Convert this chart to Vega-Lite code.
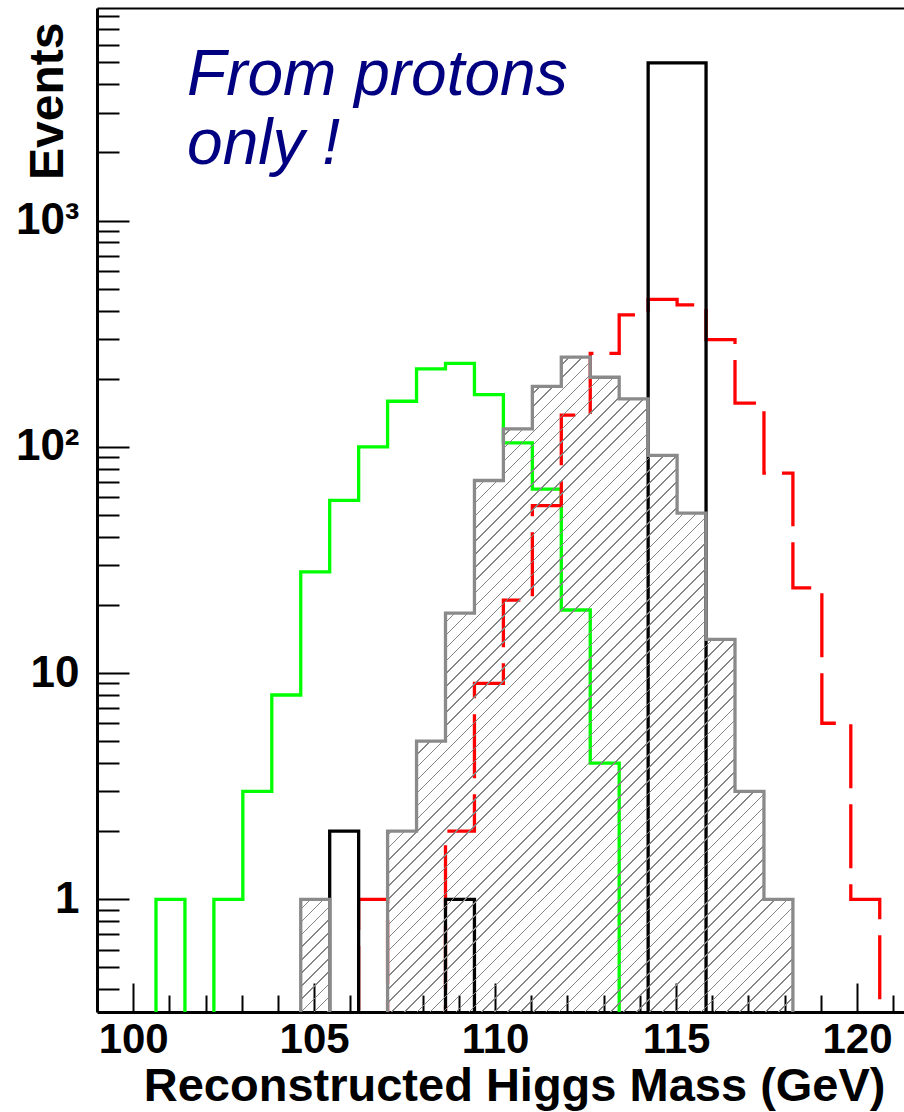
{
  "$schema": "https://vega.github.io/schema/vega-lite/v6.json",
  "width": 807,
  "height": 1004,
  "autosize": {"type": "none"},
  "padding": {"left": 97, "top": 8, "right": 0, "bottom": 100},
  "background": "white",
  "config": {"view": {"stroke": null}, "font": "Liberation Sans", "axis": {"grid": false}},
  "datasets": {
    "bins": [
      {"mass_lo": 99.03, "green": 0.1, "red": 0.1, "black": 0.1, "hatched": 0.1},
      {"mass_lo": 99.83, "green": 0.1, "red": 0.1, "black": 0.1, "hatched": 0.1},
      {"mass_lo": 100.63, "green": 1, "red": 0.1, "black": 0.1, "hatched": 0.1},
      {"mass_lo": 101.43, "green": 0.1, "red": 0.1, "black": 0.1, "hatched": 0.1},
      {"mass_lo": 102.23, "green": 1, "red": 0.1, "black": 0.1, "hatched": 0.1},
      {"mass_lo": 103.03, "green": 3, "red": 0.1, "black": 0.1, "hatched": 0.1},
      {"mass_lo": 103.83, "green": 8, "red": 0.1, "black": 0.1, "hatched": 0.1},
      {"mass_lo": 104.63, "green": 28, "red": 0.1, "black": 0.1, "hatched": 1},
      {"mass_lo": 105.43, "green": 58, "red": 0.1, "black": 2, "hatched": 0.1},
      {"mass_lo": 106.23, "green": 100, "red": 1, "black": 0.1, "hatched": 0.1},
      {"mass_lo": 107.03, "green": 159, "red": 0.1, "black": 0.1, "hatched": 2},
      {"mass_lo": 107.83, "green": 221, "red": 0.1, "black": 0.1, "hatched": 5},
      {"mass_lo": 108.63, "green": 234, "red": 2, "black": 1, "hatched": 18.4},
      {"mass_lo": 109.43, "green": 170, "red": 9, "black": 0.1, "hatched": 71},
      {"mass_lo": 110.23, "green": 104, "red": 21, "black": 0.1, "hatched": 120},
      {"mass_lo": 111.03, "green": 65, "red": 55, "black": 0.1, "hatched": 185},
      {"mass_lo": 111.83, "green": 19, "red": 138, "black": 0.1, "hatched": 249},
      {"mass_lo": 112.63, "green": 4, "red": 259, "black": 0.1, "hatched": 203},
      {"mass_lo": 113.43, "green": 0.1, "red": 383, "black": 0.1, "hatched": 163},
      {"mass_lo": 114.23, "green": 0.1, "red": 448, "black": 4980, "hatched": 91.6},
      {"mass_lo": 115.03, "green": 0.1, "red": 424, "black": 4980, "hatched": 50.9},
      {"mass_lo": 115.83, "green": 0.1, "red": 298, "black": 0.1, "hatched": 14.1},
      {"mass_lo": 116.63, "green": 0.1, "red": 156, "black": 0.1, "hatched": 3},
      {"mass_lo": 117.43, "green": 0.1, "red": 76.5, "black": 0.1, "hatched": 1},
      {"mass_lo": 118.23, "green": 0.1, "red": 23.8, "black": 0.1, "hatched": 0.1},
      {"mass_lo": 119.03, "green": 0.1, "red": 6, "black": 0.1, "hatched": 0.1},
      {"mass_lo": 119.83, "green": 0.1, "red": 1, "black": 0.1, "hatched": 0.1},
      {"mass_lo": 120.63, "green": 0.1, "red": 0.1, "black": 0.1, "hatched": 0.1}
    ]
  },
  "data": {"name": "bins"},
  "resolve": {"axis": {"x": "independent", "y": "independent"}},
  "layer": [
    {
      "mark": {"type": "line", "interpolate": "step-after", "color": "#00ff00", "strokeWidth": 3.3, "clip": true, "strokeJoin": "miter", "strokeCap": "butt"},
      "encoding": {
        "x": {"field": "mass_lo", "type": "quantitative",
          "scale": {"domain": [99, 121.3], "nice": false, "zero": false},
          "axis": {"orient": "bottom", "values": [100, 105, 110, 115, 120], "format": "d", "ticks": false, "tickSize": 0,
            "domain": true, "domainColor": "black", "domainWidth": 3,
            "labelFont": "Liberation Sans", "labelFontWeight": "bold", "labelFontSize": 42, "labelColor": "black",
            "labelPadding": 7, "labelBaseline": "top", "labelFlush": false, "labelOverlap": false,
            "title": "Reconstructed Higgs Mass (GeV)", "titleFont": "Liberation Sans", "titleFontWeight": "bold",
            "titleFontSize": 47, "titleColor": "black", "titleAlign": "right", "titleBaseline": "alphabetic",
            "titleX": 788, "titleY": 88}},
        "y": {"field": "green", "type": "quantitative",
          "scale": {"type": "log", "domain": [0.3177, 8700], "nice": false},
          "axis": {"orient": "left", "values": [1, 10, 100, 1000],
            "labelExpr": "datum.value == 1000 ? '10³' : datum.value == 100 ? '10²' : datum.value == 10 ? '10' : '1'",
            "ticks": false, "tickSize": 0, "domain": true, "domainColor": "black", "domainWidth": 3,
            "labelFont": "Liberation Sans", "labelFontWeight": "bold", "labelFontSize": 44, "labelColor": "black",
            "labelPadding": 18, "labelAlign": "right", "labelBaseline": "middle", "labelFlush": false, "labelOverlap": false,
            "title": "Events", "titleFont": "Liberation Sans", "titleFontWeight": "bold", "titleFontSize": 48,
            "titleColor": "black", "titleAngle": -90, "titleAlign": "right", "titleBaseline": "alphabetic",
            "titleX": -35, "titleY": 14}}
      }
    },
    {
      "mark": {"type": "line", "interpolate": "step-after", "color": "#ff0000", "strokeWidth": 3.3, "strokeDash": [64, 16], "strokeDashOffset": 23.85, "clip": true, "strokeJoin": "miter", "strokeCap": "butt"},
      "encoding": {
        "x": {"field": "mass_lo", "type": "quantitative",
          "axis": {"orient": "bottom", "values": [100, 105, 110, 115, 120], "labels": false, "domain": false,
            "ticks": true, "tickSize": -29, "tickWidth": 2, "tickColor": "black", "title": null}},
        "y": {"field": "red", "type": "quantitative",
          "axis": {"orient": "left", "values": [1, 10, 100, 1000], "labels": false, "domain": false,
            "ticks": true, "tickSize": -32, "tickWidth": 2, "tickColor": "black", "title": null}}
      }
    },
    {
      "mark": {"type": "line", "interpolate": "step-after", "color": "#000000", "strokeWidth": 3.3, "clip": true, "strokeJoin": "miter", "strokeCap": "butt"},
      "encoding": {
        "x": {"field": "mass_lo", "type": "quantitative",
          "axis": {"orient": "bottom", "values": [101, 102, 103, 104, 106, 107, 108, 109, 111, 112, 113, 114, 116, 117, 118, 119, 121],
            "labels": false, "domain": false, "ticks": true, "tickSize": -17, "tickWidth": 2, "tickColor": "black", "title": null}},
        "y": {"field": "black", "type": "quantitative",
          "axis": {"orient": "left", "values": [0.4, 0.5, 0.6, 0.7, 0.8, 0.9, 2, 3, 4, 5, 6, 7, 8, 9, 20, 30, 40, 50, 60, 70, 80, 90, 200, 300, 400, 500, 600, 700, 800, 900, 2000, 3000, 4000, 5000, 6000, 7000, 8000],
            "labels": false, "domain": false, "ticks": true, "tickSize": -22, "tickWidth": 2, "tickColor": "black", "title": null}}
      }
    },
    {
      "transform": [{"filter": {"field": "mass_lo", "range": [103.5, 118.5]}}],
      "mark": {"type": "area", "interpolate": "step-after", "clip": true,
        "fill": {"gradient": "linear", "x1": 0, "y1": 0, "x2": 0.7795, "y2": 1.1495, "stops": [
{"offset":0,"color":"#858585"},{"offset":0.0012,"color":"#858585"},{"offset":0.0012,"color":"transparent"},{"offset":0.01,"color":"transparent"},
{"offset":0.01,"color":"#858585"},{"offset":0.0112,"color":"#858585"},{"offset":0.0112,"color":"transparent"},{"offset":0.02,"color":"transparent"},
{"offset":0.02,"color":"#858585"},{"offset":0.0212,"color":"#858585"},{"offset":0.0212,"color":"transparent"},{"offset":0.03,"color":"transparent"},
{"offset":0.03,"color":"#858585"},{"offset":0.0312,"color":"#858585"},{"offset":0.0312,"color":"transparent"},{"offset":0.04,"color":"transparent"},
{"offset":0.04,"color":"#858585"},{"offset":0.0412,"color":"#858585"},{"offset":0.0412,"color":"transparent"},{"offset":0.05,"color":"transparent"},
{"offset":0.05,"color":"#858585"},{"offset":0.0512,"color":"#858585"},{"offset":0.0512,"color":"transparent"},{"offset":0.06,"color":"transparent"},
{"offset":0.06,"color":"#858585"},{"offset":0.0612,"color":"#858585"},{"offset":0.0612,"color":"transparent"},{"offset":0.07,"color":"transparent"},
{"offset":0.07,"color":"#858585"},{"offset":0.0712,"color":"#858585"},{"offset":0.0712,"color":"transparent"},{"offset":0.08,"color":"transparent"},
{"offset":0.08,"color":"#858585"},{"offset":0.0812,"color":"#858585"},{"offset":0.0812,"color":"transparent"},{"offset":0.09,"color":"transparent"},
{"offset":0.09,"color":"#858585"},{"offset":0.0912,"color":"#858585"},{"offset":0.0912,"color":"transparent"},{"offset":0.10,"color":"transparent"},
{"offset":0.10,"color":"#858585"},{"offset":0.1012,"color":"#858585"},{"offset":0.1012,"color":"transparent"},{"offset":0.11,"color":"transparent"},
{"offset":0.11,"color":"#858585"},{"offset":0.1112,"color":"#858585"},{"offset":0.1112,"color":"transparent"},{"offset":0.12,"color":"transparent"},
{"offset":0.12,"color":"#858585"},{"offset":0.1212,"color":"#858585"},{"offset":0.1212,"color":"transparent"},{"offset":0.13,"color":"transparent"},
{"offset":0.13,"color":"#858585"},{"offset":0.1312,"color":"#858585"},{"offset":0.1312,"color":"transparent"},{"offset":0.14,"color":"transparent"},
{"offset":0.14,"color":"#858585"},{"offset":0.1412,"color":"#858585"},{"offset":0.1412,"color":"transparent"},{"offset":0.15,"color":"transparent"},
{"offset":0.15,"color":"#858585"},{"offset":0.1512,"color":"#858585"},{"offset":0.1512,"color":"transparent"},{"offset":0.16,"color":"transparent"},
{"offset":0.16,"color":"#858585"},{"offset":0.1612,"color":"#858585"},{"offset":0.1612,"color":"transparent"},{"offset":0.17,"color":"transparent"},
{"offset":0.17,"color":"#858585"},{"offset":0.1712,"color":"#858585"},{"offset":0.1712,"color":"transparent"},{"offset":0.18,"color":"transparent"},
{"offset":0.18,"color":"#858585"},{"offset":0.1812,"color":"#858585"},{"offset":0.1812,"color":"transparent"},{"offset":0.19,"color":"transparent"},
{"offset":0.19,"color":"#858585"},{"offset":0.1912,"color":"#858585"},{"offset":0.1912,"color":"transparent"},{"offset":0.20,"color":"transparent"},
{"offset":0.20,"color":"#858585"},{"offset":0.2012,"color":"#858585"},{"offset":0.2012,"color":"transparent"},{"offset":0.21,"color":"transparent"},
{"offset":0.21,"color":"#858585"},{"offset":0.2112,"color":"#858585"},{"offset":0.2112,"color":"transparent"},{"offset":0.22,"color":"transparent"},
{"offset":0.22,"color":"#858585"},{"offset":0.2212,"color":"#858585"},{"offset":0.2212,"color":"transparent"},{"offset":0.23,"color":"transparent"},
{"offset":0.23,"color":"#858585"},{"offset":0.2312,"color":"#858585"},{"offset":0.2312,"color":"transparent"},{"offset":0.24,"color":"transparent"},
{"offset":0.24,"color":"#858585"},{"offset":0.2412,"color":"#858585"},{"offset":0.2412,"color":"transparent"},{"offset":0.25,"color":"transparent"},
{"offset":0.25,"color":"#858585"},{"offset":0.2512,"color":"#858585"},{"offset":0.2512,"color":"transparent"},{"offset":0.26,"color":"transparent"},
{"offset":0.26,"color":"#858585"},{"offset":0.2612,"color":"#858585"},{"offset":0.2612,"color":"transparent"},{"offset":0.27,"color":"transparent"},
{"offset":0.27,"color":"#858585"},{"offset":0.2712,"color":"#858585"},{"offset":0.2712,"color":"transparent"},{"offset":0.28,"color":"transparent"},
{"offset":0.28,"color":"#858585"},{"offset":0.2812,"color":"#858585"},{"offset":0.2812,"color":"transparent"},{"offset":0.29,"color":"transparent"},
{"offset":0.29,"color":"#858585"},{"offset":0.2912,"color":"#858585"},{"offset":0.2912,"color":"transparent"},{"offset":0.30,"color":"transparent"},
{"offset":0.30,"color":"#858585"},{"offset":0.3012,"color":"#858585"},{"offset":0.3012,"color":"transparent"},{"offset":0.31,"color":"transparent"},
{"offset":0.31,"color":"#858585"},{"offset":0.3112,"color":"#858585"},{"offset":0.3112,"color":"transparent"},{"offset":0.32,"color":"transparent"},
{"offset":0.32,"color":"#858585"},{"offset":0.3212,"color":"#858585"},{"offset":0.3212,"color":"transparent"},{"offset":0.33,"color":"transparent"},
{"offset":0.33,"color":"#858585"},{"offset":0.3312,"color":"#858585"},{"offset":0.3312,"color":"transparent"},{"offset":0.34,"color":"transparent"},
{"offset":0.34,"color":"#858585"},{"offset":0.3412,"color":"#858585"},{"offset":0.3412,"color":"transparent"},{"offset":0.35,"color":"transparent"},
{"offset":0.35,"color":"#858585"},{"offset":0.3512,"color":"#858585"},{"offset":0.3512,"color":"transparent"},{"offset":0.36,"color":"transparent"},
{"offset":0.36,"color":"#858585"},{"offset":0.3612,"color":"#858585"},{"offset":0.3612,"color":"transparent"},{"offset":0.37,"color":"transparent"},
{"offset":0.37,"color":"#858585"},{"offset":0.3712,"color":"#858585"},{"offset":0.3712,"color":"transparent"},{"offset":0.38,"color":"transparent"},
{"offset":0.38,"color":"#858585"},{"offset":0.3812,"color":"#858585"},{"offset":0.3812,"color":"transparent"},{"offset":0.39,"color":"transparent"},
{"offset":0.39,"color":"#858585"},{"offset":0.3912,"color":"#858585"},{"offset":0.3912,"color":"transparent"},{"offset":0.40,"color":"transparent"},
{"offset":0.40,"color":"#858585"},{"offset":0.4012,"color":"#858585"},{"offset":0.4012,"color":"transparent"},{"offset":0.41,"color":"transparent"},
{"offset":0.41,"color":"#858585"},{"offset":0.4112,"color":"#858585"},{"offset":0.4112,"color":"transparent"},{"offset":0.42,"color":"transparent"},
{"offset":0.42,"color":"#858585"},{"offset":0.4212,"color":"#858585"},{"offset":0.4212,"color":"transparent"},{"offset":0.43,"color":"transparent"},
{"offset":0.43,"color":"#858585"},{"offset":0.4312,"color":"#858585"},{"offset":0.4312,"color":"transparent"},{"offset":0.44,"color":"transparent"},
{"offset":0.44,"color":"#858585"},{"offset":0.4412,"color":"#858585"},{"offset":0.4412,"color":"transparent"},{"offset":0.45,"color":"transparent"},
{"offset":0.45,"color":"#858585"},{"offset":0.4512,"color":"#858585"},{"offset":0.4512,"color":"transparent"},{"offset":0.46,"color":"transparent"},
{"offset":0.46,"color":"#858585"},{"offset":0.4612,"color":"#858585"},{"offset":0.4612,"color":"transparent"},{"offset":0.47,"color":"transparent"},
{"offset":0.47,"color":"#858585"},{"offset":0.4712,"color":"#858585"},{"offset":0.4712,"color":"transparent"},{"offset":0.48,"color":"transparent"},
{"offset":0.48,"color":"#858585"},{"offset":0.4812,"color":"#858585"},{"offset":0.4812,"color":"transparent"},{"offset":0.49,"color":"transparent"},
{"offset":0.49,"color":"#858585"},{"offset":0.4912,"color":"#858585"},{"offset":0.4912,"color":"transparent"},{"offset":0.50,"color":"transparent"},
{"offset":0.50,"color":"#858585"},{"offset":0.5012,"color":"#858585"},{"offset":0.5012,"color":"transparent"},{"offset":0.51,"color":"transparent"},
{"offset":0.51,"color":"#858585"},{"offset":0.5112,"color":"#858585"},{"offset":0.5112,"color":"transparent"},{"offset":0.52,"color":"transparent"},
{"offset":0.52,"color":"#858585"},{"offset":0.5212,"color":"#858585"},{"offset":0.5212,"color":"transparent"},{"offset":0.53,"color":"transparent"},
{"offset":0.53,"color":"#858585"},{"offset":0.5312,"color":"#858585"},{"offset":0.5312,"color":"transparent"},{"offset":0.54,"color":"transparent"},
{"offset":0.54,"color":"#858585"},{"offset":0.5412,"color":"#858585"},{"offset":0.5412,"color":"transparent"},{"offset":0.55,"color":"transparent"},
{"offset":0.55,"color":"#858585"},{"offset":0.5512,"color":"#858585"},{"offset":0.5512,"color":"transparent"},{"offset":0.56,"color":"transparent"},
{"offset":0.56,"color":"#858585"},{"offset":0.5612,"color":"#858585"},{"offset":0.5612,"color":"transparent"},{"offset":0.57,"color":"transparent"},
{"offset":0.57,"color":"#858585"},{"offset":0.5712,"color":"#858585"},{"offset":0.5712,"color":"transparent"},{"offset":0.58,"color":"transparent"},
{"offset":0.58,"color":"#858585"},{"offset":0.5812,"color":"#858585"},{"offset":0.5812,"color":"transparent"},{"offset":0.59,"color":"transparent"},
{"offset":0.59,"color":"#858585"},{"offset":0.5912,"color":"#858585"},{"offset":0.5912,"color":"transparent"},{"offset":0.60,"color":"transparent"},
{"offset":0.60,"color":"#858585"},{"offset":0.6012,"color":"#858585"},{"offset":0.6012,"color":"transparent"},{"offset":0.61,"color":"transparent"},
{"offset":0.61,"color":"#858585"},{"offset":0.6112,"color":"#858585"},{"offset":0.6112,"color":"transparent"},{"offset":0.62,"color":"transparent"},
{"offset":0.62,"color":"#858585"},{"offset":0.6212,"color":"#858585"},{"offset":0.6212,"color":"transparent"},{"offset":0.63,"color":"transparent"},
{"offset":0.63,"color":"#858585"},{"offset":0.6312,"color":"#858585"},{"offset":0.6312,"color":"transparent"},{"offset":0.64,"color":"transparent"},
{"offset":0.64,"color":"#858585"},{"offset":0.6412,"color":"#858585"},{"offset":0.6412,"color":"transparent"},{"offset":0.65,"color":"transparent"},
{"offset":0.65,"color":"#858585"},{"offset":0.6512,"color":"#858585"},{"offset":0.6512,"color":"transparent"},{"offset":0.66,"color":"transparent"},
{"offset":0.66,"color":"#858585"},{"offset":0.6612,"color":"#858585"},{"offset":0.6612,"color":"transparent"},{"offset":0.67,"color":"transparent"},
{"offset":0.67,"color":"#858585"},{"offset":0.6712,"color":"#858585"},{"offset":0.6712,"color":"transparent"},{"offset":0.68,"color":"transparent"},
{"offset":0.68,"color":"#858585"},{"offset":0.6812,"color":"#858585"},{"offset":0.6812,"color":"transparent"},{"offset":0.69,"color":"transparent"},
{"offset":0.69,"color":"#858585"},{"offset":0.6912,"color":"#858585"},{"offset":0.6912,"color":"transparent"},{"offset":0.70,"color":"transparent"},
{"offset":0.70,"color":"#858585"},{"offset":0.7012,"color":"#858585"},{"offset":0.7012,"color":"transparent"},{"offset":0.71,"color":"transparent"},
{"offset":0.71,"color":"#858585"},{"offset":0.7112,"color":"#858585"},{"offset":0.7112,"color":"transparent"},{"offset":0.72,"color":"transparent"},
{"offset":0.72,"color":"#858585"},{"offset":0.7212,"color":"#858585"},{"offset":0.7212,"color":"transparent"},{"offset":0.73,"color":"transparent"},
{"offset":0.73,"color":"#858585"},{"offset":0.7312,"color":"#858585"},{"offset":0.7312,"color":"transparent"},{"offset":0.74,"color":"transparent"},
{"offset":0.74,"color":"#858585"},{"offset":0.7412,"color":"#858585"},{"offset":0.7412,"color":"transparent"},{"offset":0.75,"color":"transparent"},
{"offset":0.75,"color":"#858585"},{"offset":0.7512,"color":"#858585"},{"offset":0.7512,"color":"transparent"},{"offset":0.76,"color":"transparent"},
{"offset":0.76,"color":"#858585"},{"offset":0.7612,"color":"#858585"},{"offset":0.7612,"color":"transparent"},{"offset":0.77,"color":"transparent"},
{"offset":0.77,"color":"#858585"},{"offset":0.7712,"color":"#858585"},{"offset":0.7712,"color":"transparent"},{"offset":0.78,"color":"transparent"},
{"offset":0.78,"color":"#858585"},{"offset":0.7812,"color":"#858585"},{"offset":0.7812,"color":"transparent"},{"offset":0.79,"color":"transparent"},
{"offset":0.79,"color":"#858585"},{"offset":0.7912,"color":"#858585"},{"offset":0.7912,"color":"transparent"},{"offset":0.80,"color":"transparent"},
{"offset":0.80,"color":"#858585"},{"offset":0.8012,"color":"#858585"},{"offset":0.8012,"color":"transparent"},{"offset":0.81,"color":"transparent"},
{"offset":0.81,"color":"#858585"},{"offset":0.8112,"color":"#858585"},{"offset":0.8112,"color":"transparent"},{"offset":0.82,"color":"transparent"},
{"offset":0.82,"color":"#858585"},{"offset":0.8212,"color":"#858585"},{"offset":0.8212,"color":"transparent"},{"offset":0.83,"color":"transparent"},
{"offset":0.83,"color":"#858585"},{"offset":0.8312,"color":"#858585"},{"offset":0.8312,"color":"transparent"},{"offset":0.84,"color":"transparent"},
{"offset":0.84,"color":"#858585"},{"offset":0.8412,"color":"#858585"},{"offset":0.8412,"color":"transparent"},{"offset":0.85,"color":"transparent"},
{"offset":0.85,"color":"#858585"},{"offset":0.8512,"color":"#858585"},{"offset":0.8512,"color":"transparent"},{"offset":0.86,"color":"transparent"},
{"offset":0.86,"color":"#858585"},{"offset":0.8612,"color":"#858585"},{"offset":0.8612,"color":"transparent"},{"offset":0.87,"color":"transparent"},
{"offset":0.87,"color":"#858585"},{"offset":0.8712,"color":"#858585"},{"offset":0.8712,"color":"transparent"},{"offset":0.88,"color":"transparent"},
{"offset":0.88,"color":"#858585"},{"offset":0.8812,"color":"#858585"},{"offset":0.8812,"color":"transparent"},{"offset":0.89,"color":"transparent"},
{"offset":0.89,"color":"#858585"},{"offset":0.8912,"color":"#858585"},{"offset":0.8912,"color":"transparent"},{"offset":0.90,"color":"transparent"},
{"offset":0.90,"color":"#858585"},{"offset":0.9012,"color":"#858585"},{"offset":0.9012,"color":"transparent"},{"offset":0.91,"color":"transparent"},
{"offset":0.91,"color":"#858585"},{"offset":0.9112,"color":"#858585"},{"offset":0.9112,"color":"transparent"},{"offset":0.92,"color":"transparent"},
{"offset":0.92,"color":"#858585"},{"offset":0.9212,"color":"#858585"},{"offset":0.9212,"color":"transparent"},{"offset":0.93,"color":"transparent"},
{"offset":0.93,"color":"#858585"},{"offset":0.9312,"color":"#858585"},{"offset":0.9312,"color":"transparent"},{"offset":0.94,"color":"transparent"},
{"offset":0.94,"color":"#858585"},{"offset":0.9412,"color":"#858585"},{"offset":0.9412,"color":"transparent"},{"offset":0.95,"color":"transparent"},
{"offset":0.95,"color":"#858585"},{"offset":0.9512,"color":"#858585"},{"offset":0.9512,"color":"transparent"},{"offset":0.96,"color":"transparent"},
{"offset":0.96,"color":"#858585"},{"offset":0.9612,"color":"#858585"},{"offset":0.9612,"color":"transparent"},{"offset":0.97,"color":"transparent"},
{"offset":0.97,"color":"#858585"},{"offset":0.9712,"color":"#858585"},{"offset":0.9712,"color":"transparent"},{"offset":0.98,"color":"transparent"},
{"offset":0.98,"color":"#858585"},{"offset":0.9812,"color":"#858585"},{"offset":0.9812,"color":"transparent"},{"offset":0.99,"color":"transparent"},
{"offset":0.99,"color":"#858585"},{"offset":0.9912,"color":"#858585"},{"offset":0.9912,"color":"transparent"},{"offset":1,"color":"transparent"}
        ]}},
      "encoding": {
        "x": {"field": "mass_lo", "type": "quantitative",
          "axis": {"orient": "top", "domain": true, "domainColor": "black", "domainWidth": 2, "ticks": false, "labels": false, "title": null}},
        "y": {"field": "hatched", "type": "quantitative", "axis": null},
        "y2": {"datum": 0.1}
      }
    },
    {
      "transform": [{"filter": {"field": "mass_lo", "range": [103.5, 118.5]}}],
      "mark": {"type": "line", "interpolate": "step-after", "color": "#8a8a8a", "strokeWidth": 3.3, "clip": true, "strokeJoin": "miter", "strokeCap": "butt"},
      "encoding": {
        "x": {"field": "mass_lo", "type": "quantitative", "axis": null},
        "y": {"field": "hatched", "type": "quantitative", "axis": null}
      }
    },
    {
      "data": {"values": [{"note": "From protons only !"}]},
      "mark": {"type": "text", "text": ["From protons", "only !"], "font": "Liberation Sans", "fontStyle": "italic", "fontSize": 64, "color": "#000080", "align": "left", "baseline": "alphabetic", "lineHeight": 69},
      "encoding": {
        "x": {"datum": 101.49, "type": "quantitative", "axis": null},
        "y": {"datum": 3590, "type": "quantitative", "axis": null}
      }
    }
  ]
}
